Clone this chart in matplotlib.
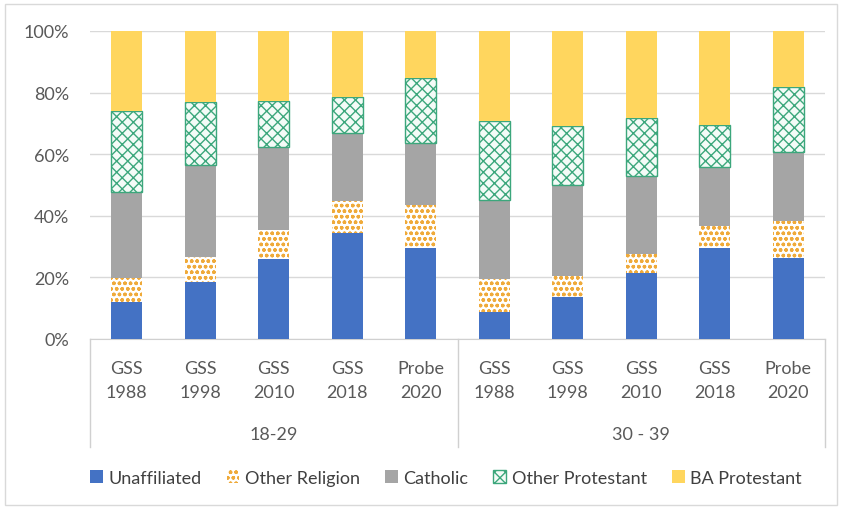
import matplotlib.pyplot as plt
from matplotlib.patches import Rectangle
from matplotlib.lines import Line2D

plt.rcParams['font.family'] = ['Lato', 'DejaVu Sans']
plt.rcParams['hatch.linewidth'] = 1.0

# data (percent of each bar)
sources = ['GSS\n1988', 'GSS\n1998', 'GSS\n2010', 'GSS\n2018', 'Probe\n2020',
           'GSS\n1988', 'GSS\n1998', 'GSS\n2010', 'GSS\n2018', 'Probe\n2020']
age_groups = ['18-29', '30 - 39']

unaffiliated = [12.1, 18.4, 26.0, 34.3, 29.7, 8.7, 13.5, 21.4, 29.7, 26.2]
other_religion = [7.6, 8.3, 9.4, 10.6, 13.9, 10.8, 7.1, 6.1, 7.1, 12.2]
catholic = [27.9, 29.9, 26.8, 21.9, 20.0, 25.6, 29.4, 25.3, 19.2, 22.4]
other_protestant = [26.5, 20.5, 15.2, 11.9, 21.1, 25.8, 19.0, 18.8, 13.5, 20.9]
ba_protestant = [25.9, 22.9, 22.6, 21.3, 15.3, 29.1, 31.0, 28.4, 30.5, 18.3]

series = [
    ('Unaffiliated', unaffiliated, dict(color='#4472C4', linewidth=0)),
    ('Other Religion', other_religion, dict(facecolor='white', edgecolor='#EFAA3A', hatch='ooo', linewidth=0)),
    ('Catholic', catholic, dict(color='#A5A5A5', linewidth=0)),
    ('Other Protestant', other_protestant, dict(facecolor='#F4FBF7', edgecolor='#3CA77C', hatch='xxx', linewidth=1.0)),
    ('BA Protestant', ba_protestant, dict(color='#FFD65E', linewidth=0)),
]

fig = plt.figure(figsize=(8.41, 5.10), dpi=100)
ax = fig.add_axes([90 / 841, 1 - 340 / 510, 735 / 841, 308 / 510])

x = list(range(len(sources)))
bottom = [0.0] * len(sources)
handles = []
for name, vals, style in series:
    bars = ax.bar(x, vals, width=0.42, bottom=bottom, label=name, zorder=3, **style)
    handles.append(bars)
    bottom = [b + v for b, v in zip(bottom, vals)]

ax.set_xlim(-0.5, len(sources) - 0.5)
ax.set_ylim(0, 100)
ax.set_yticks([0, 20, 40, 60, 80, 100])
ax.set_yticklabels(['0%', '20%', '40%', '60%', '80%', '100%'])
ax.grid(axis='y', color='#D9D9D9', linewidth=1, zorder=0)
for s in ['left', 'right', 'top']:
    ax.spines[s].set_visible(False)
ax.spines['bottom'].set_color('#D0D0D0')
ax.tick_params(axis='y', length=0, pad=15, labelsize=13, labelcolor='#595959')
ax.set_xticks(x)
ax.set_xticklabels(sources, linespacing=1.6)
ax.tick_params(axis='x', length=0, pad=15, labelsize=13, labelcolor='#595959')

# age group labels and separators
n = len(sources) // len(age_groups)
for i, g in enumerate(age_groups):
    ax.text(i * n + (n - 1) / 2, -0.308, g, transform=ax.get_xaxis_transform(),
            ha='center', va='center', fontsize=13, color='#595959')
for xs in [-0.5, n - 0.5, len(sources) - 0.5]:
    ax.add_line(Line2D([xs, xs], [0, -0.35], transform=ax.get_xaxis_transform(),
                       color='#D0D0D0', linewidth=1, clip_on=False))

fig.legend(handles=handles, loc='center', bbox_to_anchor=(446 / 841, 1 - 479 / 510),
           ncol=5, frameon=False, fontsize=13, handlelength=0.7, handleheight=0.7,
           handletextpad=0.3, columnspacing=1.4, labelcolor='#404040')

fig.patches.append(Rectangle((5 / 841, 4 / 510), 832 / 841, 501 / 510, transform=fig.transFigure,
                             fill=False, edgecolor='#D9D9D9', linewidth=1))

fig.savefig('out.png', dpi=100)
